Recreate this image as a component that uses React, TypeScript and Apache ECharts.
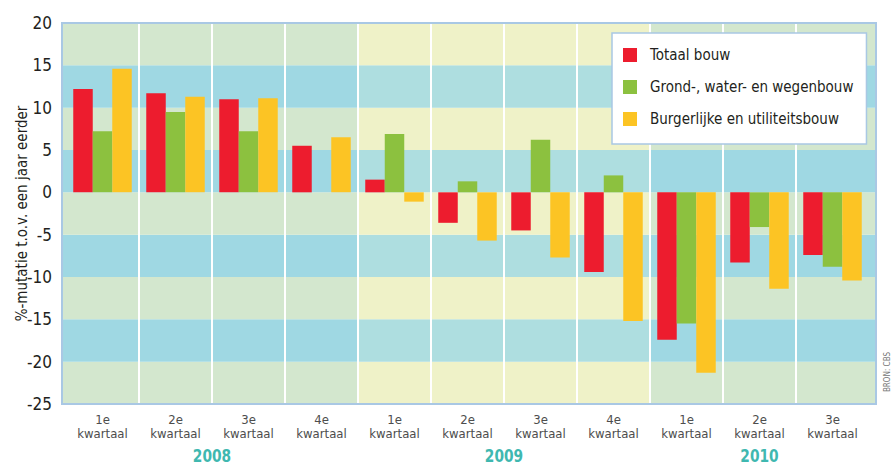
import React, { useEffect, useRef } from "react";
import * as echarts from "echarts";

const categories = [
  "1e\nkwartaal", "2e\nkwartaal", "3e\nkwartaal", "4e\nkwartaal",
  "1e\nkwartaal", "2e\nkwartaal", "3e\nkwartaal", "4e\nkwartaal",
  "1e\nkwartaal", "2e\nkwartaal", "3e\nkwartaal",
];
const years = ["2008", "2009", "2010"];
const quartersPerYear = [4, 4, 3];
const seriesNames = ["Totaal bouw", "Grond-, water- en wegenbouw", "Burgerlijke en utiliteitsbouw"];
const totaalBouw = [12.2, 11.7, 11.0, 5.5, 1.5, -3.6, -4.5, -9.4, -17.4, -8.3, -7.4];
const grondWaterWegenbouw = [7.2, 9.5, 7.2, 0, 6.9, 1.3, 6.2, 2.0, -15.5, -4.1, -8.8];
const burgerlijkeUtiliteitsbouw = [14.6, 11.3, 11.1, 6.5, -1.1, -5.7, -7.7, -15.2, -21.3, -11.4, -10.4];
const yMin = -25;
const yMax = 20;
const yInterval = 5;

const FONT = "'Liberation Sans Narrow', 'DejaVu Sans Condensed', 'Roboto', sans-serif";
const barColors = ["#ed1c2e", "#8cc13f", "#fcc424"];
const regionColors = [
  ["#d3e7ce", "#9fd8e3"],
  ["#eff2c8", "#aedee0"],
  ["#d3e7ce", "#9fd8e3"],
];

export default function App() {
  const ref = useRef<HTMLDivElement>(null);
  useEffect(() => {
    if (!ref.current) return;
    const chart = echarts.init(ref.current, null, { renderer: "svg" });

    const xMin = -0.5 - 4 / 73;
    const xMax = categories.length - 0.5 + 7 / 73;

    const bgData: any[] = [];
    let start = 0;
    quartersPerYear.forEach((n, r) => {
      const x0 = r === 0 ? xMin : start - 0.5;
      const x1 = r === quartersPerYear.length - 1 ? xMax : start + n - 0.5;
      for (let b = 0; b < (yMax - yMin) / yInterval; b++) {
        bgData.push([x0, x1, yMin + b * yInterval, yMin + (b + 1) * yInterval, r, b % 2]);
      }
      start += n;
    });
    const sepData = categories.slice(1).map((_, i) => [i + 0.5]);
    const yearData: any[] = [];
    start = 0;
    quartersPerYear.forEach((n, r) => {
      yearData.push([start + (n - 1) / 2, years[r]]);
      start += n;
    });

    const option: any = {
      animation: false,
      grid: [
        { left: 62, right: 15, top: 23, bottom: 63, show: false, containLabel: false, outerBoundsMode: "none" },
        { left: 66, right: 22, top: 23, bottom: 63, show: false, containLabel: false, outerBoundsMode: "none" },
      ],
      xAxis: [
        { type: "value", gridIndex: 0, min: xMin, max: xMax, show: false },
        {
          type: "category",
          gridIndex: 1,
          data: categories,
          axisLine: { show: false },
          axisTick: { show: false },
          splitLine: { show: false },
          axisLabel: { color: "#4d4d4d", fontSize: 13, lineHeight: 14, margin: 8, fontFamily: FONT },
        },
      ],
      yAxis: [
        {
          type: "value",
          gridIndex: 0,
          min: yMin,
          max: yMax,
          interval: yInterval,
          axisLine: { show: false },
          axisTick: { show: false },
          splitLine: { show: false },
          axisLabel: { color: "#231f20", fontSize: 17, margin: 10, fontFamily: FONT },
          name: "%-mutatie t.o.v. een jaar eerder",
          nameLocation: "middle",
          nameRotate: 90,
          nameGap: 33,
          nameMoveOverlap: false,
          nameTextStyle: { color: "#231f20", fontSize: 15, fontFamily: FONT },
        },
        { type: "value", gridIndex: 1, min: yMin, max: yMax, interval: yInterval, show: false },
      ],
      legend: {
        orient: "vertical",
        left: 612,
        top: 33,
        data: seriesNames,
        icon: "rect",
        itemWidth: 14,
        itemHeight: 14,
        itemGap: 12,
        backgroundColor: "#ffffff",
        borderColor: "#a9c8e4",
        borderWidth: 1.5,
        padding: [12, 13, 15, 11],
        textStyle: { fontSize: 15, color: "#231f20", lineHeight: 20, fontFamily: FONT, padding: [0, 0, 0, 8] },
      },
      series: [
        {
          type: "custom",
          name: "bg",
          xAxisIndex: 0,
          yAxisIndex: 0,
          silent: true,
          z: 1,
          data: bgData,
          encode: { x: [0, 1], y: [2, 3] },
          renderItem: (params: any, api: any) => {
            const p0 = api.coord([api.value(0), api.value(3)]);
            const p1 = api.coord([api.value(1), api.value(2)]);
            const color = regionColors[api.value(4)][api.value(5)];
            return {
              type: "rect",
              shape: { x: p0[0], y: p0[1], width: p1[0] - p0[0], height: p1[1] - p0[1] },
              style: { fill: color },
            };
          },
        },
        {
          type: "custom",
          name: "sep",
          xAxisIndex: 0,
          yAxisIndex: 0,
          silent: true,
          z: 1.5,
          data: sepData,
          encode: { x: 0 },
          renderItem: (params: any, api: any) => {
            const p0 = api.coord([api.value(0), yMax]);
            const p1 = api.coord([api.value(0), yMin]);
            return {
              type: "line",
              shape: { x1: p0[0], y1: p0[1], x2: p1[0], y2: p1[1] },
              style: { stroke: "#ffffff", lineWidth: 2 },
            };
          },
        },
        {
          type: "custom",
          name: "frame",
          xAxisIndex: 0,
          yAxisIndex: 0,
          silent: true,
          z: 5,
          data: [[xMin, xMax, yMin, yMax]],
          encode: { x: [0, 1], y: [2, 3] },
          renderItem: (params: any, api: any) => {
            const p0 = api.coord([api.value(0), api.value(3)]);
            const p1 = api.coord([api.value(1), api.value(2)]);
            return {
              type: "rect",
              shape: { x: p0[0], y: p0[1], width: p1[0] - p0[0], height: p1[1] - p0[1] },
              style: { fill: "none", stroke: "#a9c8e4", lineWidth: 2 },
            };
          },
        },
        {
          type: "custom",
          name: "years",
          xAxisIndex: 0,
          yAxisIndex: 0,
          silent: true,
          z: 5,
          data: yearData,
          encode: { x: 0 },
          renderItem: (params: any, api: any) => {
            const p = api.coord([api.value(0), yMin]);
            return {
              type: "text",
              x: p[0],
              y: p[1] + 52,
              scaleX: 0.85,
              style: {
                text: yearData[params.dataIndex][1],
                fill: "#3fb8b0",
                font: `bold 18px ${FONT}`,
                align: "center",
                verticalAlign: "middle",
              },
            };
          },
        },
        {
          type: "bar",
          name: seriesNames[0],
          xAxisIndex: 1,
          yAxisIndex: 1,
          data: totaalBouw,
          barWidth: 19.5,
          barGap: "0%",
          itemStyle: { color: barColors[0] },
          z: 3,
        },
        {
          type: "bar",
          name: seriesNames[1],
          xAxisIndex: 1,
          yAxisIndex: 1,
          data: grondWaterWegenbouw,
          barWidth: 19.5,
          barGap: "0%",
          itemStyle: { color: barColors[1] },
          z: 3,
        },
        {
          type: "bar",
          name: seriesNames[2],
          xAxisIndex: 1,
          yAxisIndex: 1,
          data: burgerlijkeUtiliteitsbouw,
          barWidth: 19.5,
          barGap: "0%",
          itemStyle: { color: barColors[2] },
          z: 3,
        },
      ],
      graphic: [
        {
          type: "text",
          left: 883,
          top: 352,
          rotation: Math.PI / 2,
          style: { text: "BRON: CBS", fill: "#777", font: `8px ${FONT}` },
        },
      ],
    };
    chart.setOption(option);
    return () => chart.dispose();
  }, []);
  return (
    <div
      ref={ref}
      style={{ position: "fixed", left: 0, top: 0, width: 891, height: 467, background: "#fff" }}
    />
  );
}
